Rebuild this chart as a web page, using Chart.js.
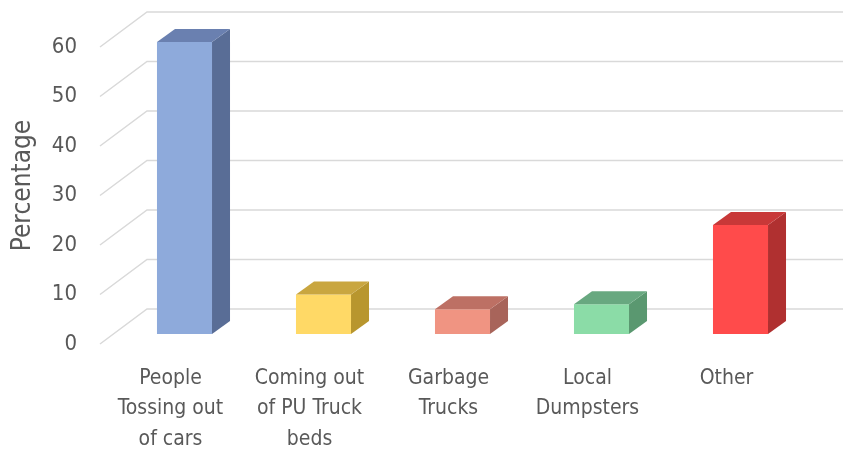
<!DOCTYPE html>
<html>
<head>
<meta charset="utf-8">
<script src="https://cdn.jsdelivr.net/npm/chart.js@4/dist/chart.umd.min.js"></script>
<style>
  html, body { margin: 0; padding: 0; background: #ffffff; }
  #wrap { width: 843px; height: 452px; position: relative; }
</style>
</head>
<body>
<div id="wrap"><canvas id="c"></canvas></div>
<script>
// ---- data ----
const categories = [
  ["People", "Tossing out", "of cars"],
  ["Coming out", "of PU Truck", "beds"],
  ["Garbage", "Trucks"],
  ["Local", "Dumpsters"],
  ["Other"]
];
const percentages = [59, 8, 5, 6, 22];
const yTicks = [0, 10, 20, 30, 40, 50, 60];
const yTitle = "Percentage";

// ---- styles ----
const frontColors = ["#8eaadb", "#ffd966", "#f09482", "#8bdca7", "#ff4b4b"];
const sideColors  = ["#596d96", "#b8962e", "#a8645a", "#5a9870", "#b03030"];
const topColors   = ["#6a80b0", "#c9a640", "#bd7064", "#68a880", "#c83838"];
const FONT = "'Liberation Sans Narrow', 'DejaVu Sans Condensed', 'Liberation Sans', sans-serif";
const DX = 18, DY = -13;          // bar depth offset
const GRID_COLOR = "#d9d9d9";

const threeD = {
  id: 'threeD',
  beforeDatasetsDraw(chart) {
    const ctx = chart.ctx, ys = chart.scales.y, ca = chart.chartArea;
    ctx.save();
    ctx.strokeStyle = GRID_COLOR;
    ctx.lineWidth = 1.5;
    ys.ticks.forEach(t => {
      const p = ys.getPixelForValue(t.value);
      const fx = ca.left - 15, fy = p + 10;
      const bx = ca.left + 32, by = p - 25;
      ctx.beginPath();
      ctx.moveTo(fx, fy);
      ctx.lineTo(bx, by);
      ctx.lineTo(chart.width, by);
      ctx.stroke();
    });
    ctx.restore();
  },
  afterDatasetsDraw(chart) {
    const ctx = chart.ctx;
    const meta = chart.getDatasetMeta(0);
    ctx.save();
    meta.data.forEach((bar, i) => {
      const p = bar.getProps(['x', 'y', 'base', 'width'], true);
      const l = p.x - p.width / 2, r = p.x + p.width / 2;
      // side face
      ctx.fillStyle = sideColors[i];
      ctx.beginPath();
      ctx.moveTo(r, p.y);
      ctx.lineTo(r + DX, p.y + DY);
      ctx.lineTo(r + DX, p.base + DY);
      ctx.lineTo(r, p.base);
      ctx.closePath();
      ctx.fill();
      // top face
      ctx.fillStyle = topColors[i];
      ctx.beginPath();
      ctx.moveTo(l, p.y);
      ctx.lineTo(l + DX, p.y + DY);
      ctx.lineTo(r + DX, p.y + DY);
      ctx.lineTo(r, p.y);
      ctx.closePath();
      ctx.fill();
    });
    ctx.restore();
  }
};

new Chart(document.getElementById('c'), {
  type: 'bar',
  data: {
    labels: categories,
    datasets: [{
      data: percentages,
      backgroundColor: frontColors,
      borderWidth: 0,
      barPercentage: 0.8,
      categoryPercentage: 0.495
    }]
  },
  options: {
    responsive: true,
    maintainAspectRatio: false,
    animation: false,
    events: [],
    layout: { padding: { top: 37, right: 33, bottom: 0, left: 0 } },
    plugins: { legend: { display: false }, tooltip: { enabled: false } },
    scales: {
      x: {
        afterFit(s) { s.height = 118; },
        grid: { display: false, drawTicks: false },
        border: { display: false },
        ticks: {
          color: '#595959',
          font: { family: FONT, size: 21, lineHeight: 1.43 },
          padding: 30,
          labelOffset: -14,
          maxRotation: 0,
          autoSkip: false
        }
      },
      y: {
        min: 0,
        max: 60,
        afterBuildTicks(s) { s.ticks = yTicks.map(v => ({ value: v })); },
        afterFit(s) { s.width = 115; s.paddingTop = 0; s.paddingBottom = 0; },
        grid: { display: false, drawTicks: false },
        border: { display: false },
        ticks: {
          color: '#595959',
          font: { family: FONT, size: 22 },
          padding: 38,
          labelOffset: 10
        },
        title: {
          display: true,
          text: yTitle,
          color: '#595959',
          font: { family: FONT, size: 26 },
          padding: { top: 8, bottom: 0 }
        }
      }
    }
  },
  plugins: [threeD]
});
</script>
</body>
</html>
